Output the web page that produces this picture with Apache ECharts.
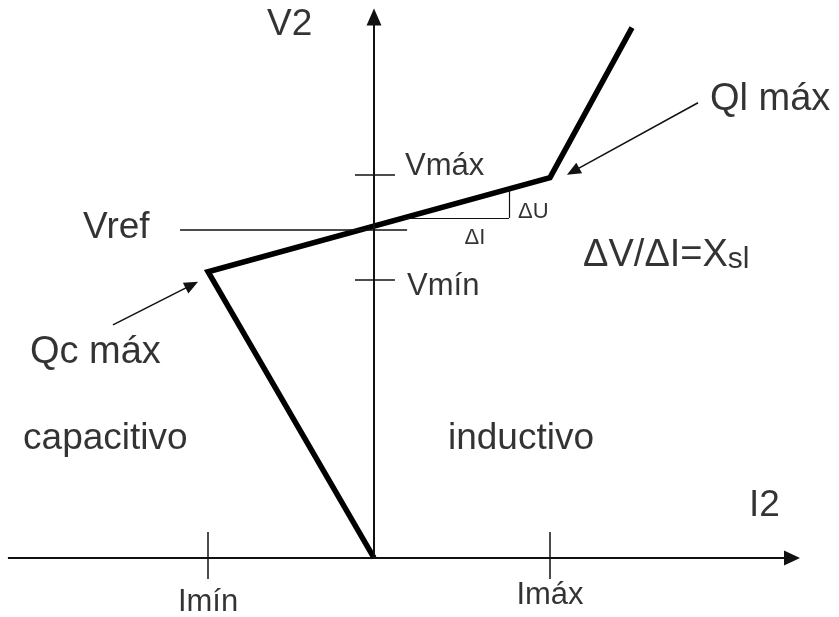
<!DOCTYPE html>
<html><head><meta charset="utf-8">
<script src="https://cdn.jsdelivr.net/npm/echarts@6/dist/echarts.min.js"></script>
<style>html,body{margin:0;padding:0;background:#fff}#c{width:839px;height:617px}</style>
</head><body><div id="c"></div>
<script>
// ---------- data ----------
const curveI = [0, -0.943, 1.0, 1.466];
const curveV = [0, 0.872, 1.159, 1.616];
const iTickNames = ['Imín', 'Imáx'];
const iTickValues = [-0.943, 1.0];
const vTickNames = ['Vmín', 'Vmáx'];
const vTickValues = [0.848, 1.168];
const vRefName = 'Vref';
const vRefValue = 1.0;
const axisNames = ['V2', 'I2'];
const regionNames = ['capacitivo', 'inductivo'];
const limitNames = ['Qc máx', 'Ql máx'];
const slopeParts = ['ΔV/ΔI=X', 'sl'];
const deltaNames = ['ΔU', 'ΔI'];

// ---------- layout (axis units) ----------
const L = {
  xRange: [-2.125, 2.642],
  yRange: [-0.18, 1.70],
  hAxis: [-2.08, 2.375],
  vAxisEnd: 1.648,
  iTickSpan: [-0.064, 0.079],
  vTickSpan: [-0.108, 0.119],
  vRefSpan: [-1.102, 0.188],
  triX: [0.167, 0.767],
  arrowQl: [[1.841, 1.387], [1.131, 1.178]],
  arrowQc: [[-1.483, 0.710], [-1.035, 0.832]],
  text: {
    'V2': [-0.608, 1.625], 'I2': [2.131, 0.159],
    'Vref': [-1.653, 1.006],
    'Vmín': [0.188, 0.826], 'Vmáx': [0.176, 1.192],
    'Qc máx': [-1.955, 0.625], 'Ql máx': [1.909, 1.397],
    'capacitivo': [-1.994, 0.363], 'inductivo': [0.42, 0.363],
    'slope': [1.188, 0.927],
    'ΔU': [0.818, 1.055], 'ΔI': [0.574, 0.976]
  },
  iLabelY: [-0.137, -0.113]
};

const FONT = "'Liberation Sans', Arial, sans-serif";
const BIG = 37;

function curveAt(x) {
  for (let k = 0; k < curveI.length - 1; k++) {
    const a = curveI[k], b = curveI[k + 1];
    if ((x - a) * (x - b) <= 0 && a !== b) {
      const t = (x - a) / (b - a);
      return curveV[k] + t * (curveV[k + 1] - curveV[k]);
    }
  }
  return null;
}

function seg(p, q, w, endSym, endSize, col) {
  return [
    { coord: p, symbol: 'none', lineStyle: { width: w, color: col || '#111', type: 'solid' } },
    { coord: q, symbol: endSym || 'none', symbolSize: endSize || 0 }
  ];
}

const lines = [];
// axes with arrow heads
lines.push(seg([L.hAxis[0], 0], [L.hAxis[1], 0], 2, 'triangle', [15, 16]));
lines.push(seg([0, 0], [0, L.vAxisEnd], 2, 'triangle', [15, 17]));
// I ticks
iTickValues.forEach(v => lines.push(seg([v, L.iTickSpan[0]], [v, L.iTickSpan[1]], 1.5)));
// V ticks
vTickValues.forEach(v => lines.push(seg([L.vTickSpan[0], v], [L.vTickSpan[1], v], 1.5)));
// Vref
lines.push(seg([L.vRefSpan[0], vRefValue], [L.vRefSpan[1], vRefValue], 1.5));
// slope triangle
const ty0 = curveAt(L.triX[0]), ty1 = curveAt(L.triX[1]);
lines.push(seg([L.triX[0], ty0], [L.triX[1], ty0], 1.2));
lines.push(seg([L.triX[1], ty0], [L.triX[1], ty1], 1.2));
// annotation arrows
lines.push(seg(L.arrowQl[0], L.arrowQl[1], 1.5, 'triangle', [12, 14]));
lines.push(seg(L.arrowQc[0], L.arrowQc[1], 1.5, 'triangle', [12, 14]));

// text labels
const texts = [];
function addText(str, pos, size, align, extra) {
  texts.push({
    value: pos,
    name: str,
    label: Object.assign({
      show: true, formatter: str, fontSize: size, fontFamily: FONT, color: '#000',
      textBorderWidth: 0,
      position: align === 'center' ? 'inside' : 'right', distance: 0,
      align: align === 'center' ? 'center' : 'left', verticalAlign: 'middle'
    }, extra || {})
  });
}
addText(axisNames[0], L.text['V2'], BIG);
addText(axisNames[1], L.text['I2'], BIG);
addText(vRefName, L.text['Vref'], BIG);
vTickNames.forEach(n => addText(n, L.text[n], 31));
limitNames.forEach(n => addText(n, L.text[n], 38));
regionNames.forEach(n => addText(n, L.text[n], BIG));
addText(deltaNames[0], L.text['ΔU'], 22);
addText(deltaNames[1], L.text['ΔI'], 22, 'center');
iTickNames.forEach((n, k) => addText(n, [iTickValues[k], L.iLabelY[k]], 31, 'center'));
addText('{a|' + slopeParts[0] + '}{b|' + slopeParts[1] + '}', L.text['slope'], 38, 'left', {
  rich: {
    a: { fontSize: 38, fontFamily: FONT, color: '#000', lineHeight: 42, verticalAlign: 'bottom' },
    b: { fontSize: 30, fontFamily: FONT, color: '#000', lineHeight: 42, verticalAlign: 'bottom' }
  }
});

const chart = echarts.init(document.getElementById('c'), null, { renderer: 'canvas' });
chart.setOption({
  animation: false,
  backgroundColor: '#fff',
  grid: { left: 0, right: 0, top: 0, bottom: 0 },
  xAxis: { type: 'value', min: L.xRange[0], max: L.xRange[1], show: false },
  yAxis: { type: 'value', min: L.yRange[0], max: L.yRange[1], show: false },
  series: [
    {
      type: 'line', silent: true, clip: false,
      data: [[0, 0]], symbol: 'none', lineStyle: { width: 0 },
      markLine: {
        silent: true, animation: false, label: { show: false },
        symbol: ['none', 'none'], precision: 6,
        emphasis: { disabled: true },
        data: lines
      }
    },
    {
      type: 'line', silent: true, clip: false,
      data: curveI.map((x, k) => [x, curveV[k]]),
      symbol: 'none',
      lineStyle: { width: 5.5, color: '#000', join: 'miter', cap: 'butt' }
    },
    {
      type: 'scatter', silent: true, clip: false,
      symbolSize: 0, data: texts
    }
  ]
});
</script>
</body></html>
